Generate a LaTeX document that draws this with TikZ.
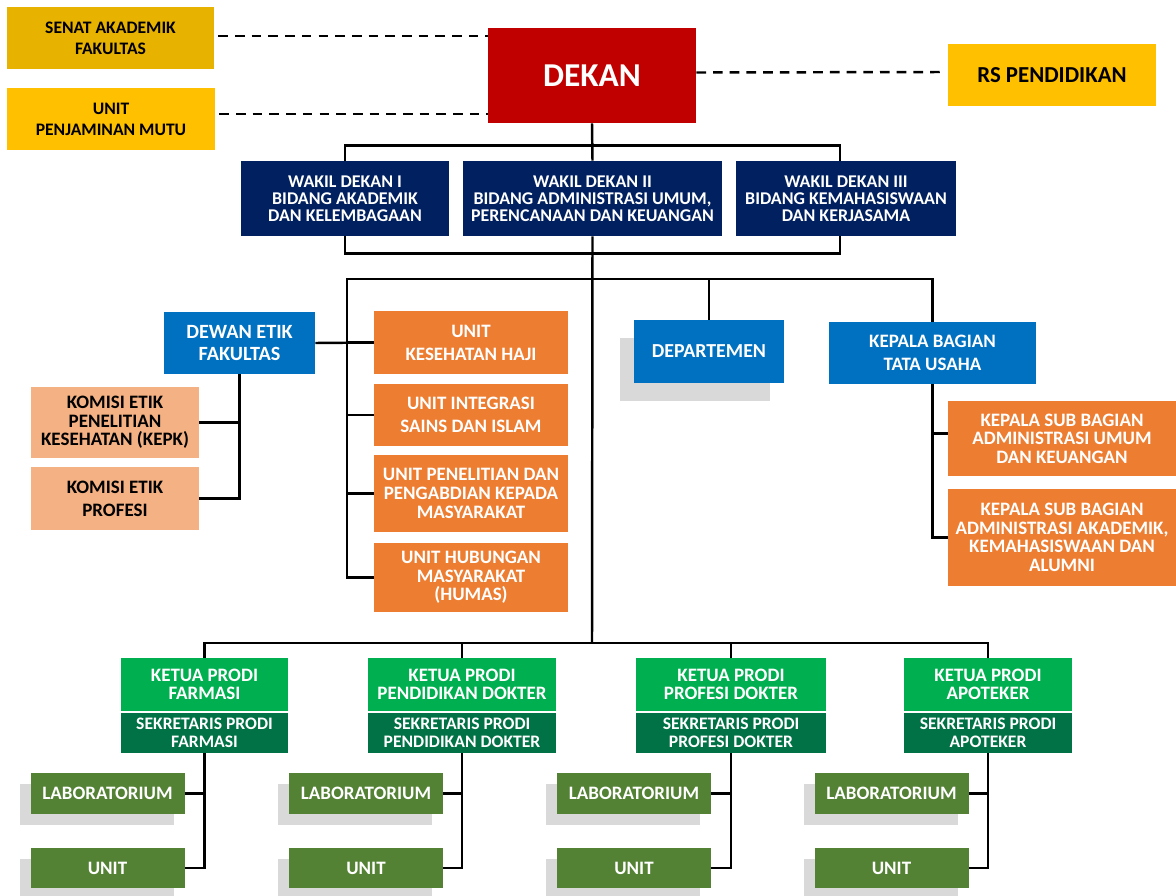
\documentclass[tikz,border=0pt]{standalone}
\usepackage{fontspec}
\setmainfont{Carlito}
\usetikzlibrary{positioning,shadows}

\definecolor{dkred}{HTML}{C00000}
\definecolor{gold}{HTML}{FFC000}
\definecolor{dkgold}{RGB}{232,178,0}
\definecolor{navy}{HTML}{002060}
\definecolor{midblue}{HTML}{0070C0}
\definecolor{orng}{HTML}{ED7D31}
\definecolor{peach}{HTML}{F4B183}
\definecolor{grn}{HTML}{00B050}
\definecolor{dkgrn}{RGB}{0,114,70}
\definecolor{olive}{HTML}{548235}
\definecolor{shadowgrey}{HTML}{D9D9D9}

\begin{document}
\begin{tikzpicture}
        [x=0.2mm,y=-0.2mm,
         box/.style={rectangle,inner sep=0pt,align=center,text=white,
           font=\bfseries\fontsize{10.8}{13}\selectfont},
         tight/.style={font=\bfseries\fontsize{10.8}{10.6}\selectfont},
         sz/.style 2 args={minimum width=#1*0.2mm,minimum height=#2*0.2mm},
         link/.style={line width=1.4pt},
         dashlink/.style={line width=1.4pt,dash pattern=on 5.5pt off 4pt},
         greyshade/.style={general shadow={fill=shadowgrey,shadow xshift=-2.2mm,shadow yshift=-2.2mm}}]
        \useasboundingbox (0,0) rectangle (1176,896);

        % pimpinan
        \node[box,sz={207}{62},fill=dkgold,text=black,font=\bfseries\fontsize{10}{12}\selectfont] (senat) at (110.5,38) {SENAT AKADEMIK\\FAKULTAS};
        \node[box,sz={208}{62},fill=gold,text=black,font=\bfseries\fontsize{10}{12}\selectfont] (mutu) at (111,119) {UNIT\\PENJAMINAN MUTU};
        \node[box,sz={208}{95},fill=dkred,font=\bfseries\fontsize{19}{22}\selectfont] (dekan) at (592,75.5) {DEKAN};
        \node[box,sz={208}{62},fill=gold,text=black,font=\bfseries\fontsize{13}{15}\selectfont] (rs) at (1052,75) {RS PENDIDIKAN};

        \draw[dashlink] ([xshift=0.8mm,yshift=0.4mm]senat.east) -- ([yshift=0.4mm]senat.east -| dekan.west);
        \draw[dashlink] ([xshift=0.8mm,yshift=1mm]mutu.east) -- ([yshift=1mm]mutu.east -| dekan.west);
        \draw[dashlink] ([yshift=0.6mm]dekan.east) -- ([xshift=-0.8mm,yshift=0.6mm]rs.west);

        % wakil dekan
        \node[box,sz={208}{75},fill=navy,font=\bfseries\fontsize{10.2}{9.8}\selectfont] (wd1) at (345,198.5) {WAKIL DEKAN I\\BIDANG AKADEMIK\\DAN KELEMBAGAAN};
        \node[box,sz={259}{75},fill=navy,font=\bfseries\fontsize{10.2}{9.8}\selectfont] (wd2) at (592.5,198.5) {WAKIL DEKAN II\\BIDANG ADMINISTRASI UMUM,\\PERENCANAAN DAN KEUANGAN};
        \node[box,sz={220}{75},fill=navy,font=\bfseries\fontsize{10.2}{9.8}\selectfont] (wd3) at (846,198.5) {WAKIL DEKAN III\\BIDANG KEMAHASISWAAN\\DAN KERJASAMA};

        \draw[link] (dekan.south) -- (wd2.north);
        \draw[link] (wd1.north) -- ++(0,-15) -| ([xshift=-1.2mm]wd3.north);
        \draw[link] (wd1.south) -- ++(0,17) -| ([xshift=-1.2mm]wd3.south);

        % dewan etik dan unit
        \node[box,sz={151}{62},fill=midblue,font=\bfseries\fontsize{11.5}{13}\selectfont] (dewan) at (239.5,343) {DEWAN ETIK\\FAKULTAS};
        \node[box,tight,sz={168}{71},fill=peach,text=black] (kepk) at (115,422.5) {KOMISI ETIK\\PENELITIAN\\KESEHATAN (KEPK)};
        \node[box,sz={168}{63},fill=peach,text=black] (kep) at (115,498.5) {KOMISI ETIK\\PROFESI};

        \node[box,sz={194}{63},fill=orng] (u1) at (471,342.5) {UNIT\\KESEHATAN HAJI};
        \node[box,sz={194}{62},fill=orng] (u2) at (471,415) {UNIT INTEGRASI\\SAINS DAN ISLAM};
        \node[box,tight,sz={194}{77},fill=orng] (u3) at (471,493.5) {UNIT PENELITIAN DAN\\PENGABDIAN KEPADA\\MASYARAKAT};
        \node[box,tight,sz={194}{69},fill=orng] (u4) at (471,577.5) {UNIT HUBUNGAN\\MASYARAKAT\\(HUMAS)};

        \node[box,sz={150}{63},fill=midblue,font=\bfseries\fontsize{11.3}{13}\selectfont,
              general shadow={fill=shadowgrey,shadow xshift=-2.8mm,shadow yshift=-3.6mm}] (dept) at (709,351.5) {DEPARTEMEN};
        \node[box,sz={207}{62},fill=midblue] (kabag) at (932.5,353) {KEPALA BAGIAN\\TATA USAHA};
        \node[box,tight,sz={228}{75},fill=orng] (ks1) at (1062,438.5) {KEPALA SUB BAGIAN\\ADMINISTRASI UMUM\\DAN KEUANGAN};
        \node[box,tight,sz={228}{97},fill=orng] (ks2) at (1062,537.5) {KEPALA SUB BAGIAN\\ADMINISTRASI AKADEMIK,\\KEMAHASISWAAN DAN\\ALUMNI};

        \coordinate (spine) at (347,279);
        \coordinate (bus) at (592,643);

        \draw[link] (wd2.south) -- (bus);
        \draw[link] (u4.west) -| (spine) -| (kabag.north);
        \draw[link] (dept.north) -- (dept.north |- spine);
        \foreach \u in {u1,u2,u3}
        {\draw[link] (\u.west) -- (\u.west -| spine);}
        \draw[link] (dewan.east) -- (u1.west);
        \draw[link] (dewan.south) |- (kep.east);
        \draw[link] (kepk.east) -- (kepk.east -| dewan.south);
        \draw[link] (kabag.south) |- (ks2.west);
        \draw[link] ([yshift=1mm]ks1.west) -- ([yshift=1mm]ks1.west -| kabag.south);

        % program studi
        \node[box,tight,sz={167}{53},fill=grn] (k1) at (204.5,684.5) {KETUA PRODI\\FARMASI};
        \node[box,tight,sz={188}{53},fill=grn] (k2) at (462,684.5) {KETUA PRODI\\PENDIDIKAN DOKTER};
        \node[box,tight,sz={190}{53},fill=grn] (k3) at (731,684.5) {KETUA PRODI\\PROFESI DOKTER};
        \node[box,tight,sz={168}{53},fill=grn] (k4) at (988,684.5) {KETUA PRODI\\APOTEKER};

        \node[box,sz={167}{40},fill=dkgrn,font=\bfseries\fontsize{10}{10}\selectfont,below=0.2mm of k1] (s1) {SEKRETARIS PRODI\\FARMASI};
        \node[box,sz={188}{40},fill=dkgrn,font=\bfseries\fontsize{10}{10}\selectfont,below=0.2mm of k2] (s2) {SEKRETARIS PRODI\\PENDIDIKAN DOKTER};
        \node[box,sz={190}{40},fill=dkgrn,font=\bfseries\fontsize{10}{10}\selectfont,below=0.2mm of k3] (s3) {SEKRETARIS PRODI\\PROFESI DOKTER};
        \node[box,sz={168}{40},fill=dkgrn,font=\bfseries\fontsize{10}{10}\selectfont,below=0.2mm of k4] (s4) {SEKRETARIS PRODI\\APOTEKER};

        \draw[link] (k1.north) |- (bus) -| (k4.north);
        \draw[link] (k2.north) -- (k2.north |- bus);
        \draw[link] (k3.north) -- (k3.north |- bus);

        \foreach \i/\x in {1/107.5,2/366,3/634,4/891.5}
        {\node[box,greyshade,sz={154}{41},fill=olive] (lab\i) at (\x,793.5) {LABORATORIUM};
         \node[box,greyshade,sz={154}{40},fill=olive] (unit\i) at (\x,868) {UNIT};
         \draw[link] (s\i.south) |- (unit\i.east);
         \draw[link] (lab\i.east) -- (lab\i.east -| s\i.south);}
      \end{tikzpicture}
\end{document}
